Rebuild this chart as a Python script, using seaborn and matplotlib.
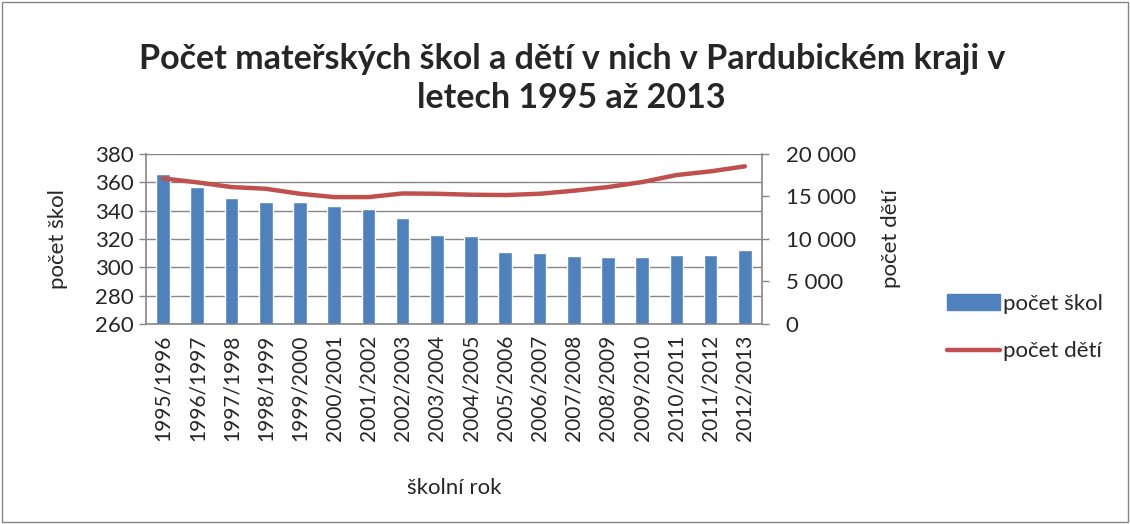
import numpy as np
import pandas as pd
import matplotlib
matplotlib.use("Agg")
import matplotlib.pyplot as plt
import seaborn as sns
from matplotlib.ticker import FuncFormatter, MultipleLocator
from matplotlib.patches import Rectangle, Patch
from matplotlib.lines import Line2D

years = ["1995/1996", "1996/1997", "1997/1998", "1998/1999", "1999/2000",
         "2000/2001", "2001/2002", "2002/2003", "2003/2004", "2004/2005",
         "2005/2006", "2006/2007", "2007/2008", "2008/2009", "2009/2010",
         "2010/2011", "2011/2012", "2012/2013"]
skoly = [366, 357, 349, 346, 346, 343, 341, 335, 323, 322,
         311, 310, 308, 307, 307, 309, 309, 312]
deti = [17130, 16660, 16110, 15910, 15320, 14930, 14930, 15360, 15320, 15210,
        15170, 15320, 15680, 16110, 16700, 17520, 17960, 18550]

sns.set_theme(style="white")
plt.rcParams['font.family'] = ['Lato', 'DejaVu Sans']

df = pd.DataFrame({"rok": years, "skoly": skoly, "deti": deti})
df["pos"] = np.arange(len(df))

fig = plt.figure(figsize=(11.3, 5.24), dpi=100)
ax = fig.add_axes([0.1292, 0.3817, 0.5451, 0.3244])

blue = "#4F81BD"
red = "#C0504D"
grey = "#868686"
fs = 16

sns.barplot(data=df, x="rok", y="skoly", color=blue, width=0.4,
            saturation=1, ax=ax, zorder=2)
ax.set_ylim(260, 380)
ax.yaxis.set_major_locator(MultipleLocator(20))
ax.set_xlim(-0.5, len(years) - 0.5)
ax.grid(axis="y", color=grey, linewidth=1, zorder=0)
ax.set_axisbelow(True)

ax2 = ax.twinx()
sns.lineplot(data=df, x="pos", y="deti", color=red, linewidth=3.2, ax=ax2,
             solid_capstyle="round")
ax2.set_ylim(0, 20000)
ax2.yaxis.set_major_locator(MultipleLocator(5000))
ax2.yaxis.set_major_formatter(FuncFormatter(lambda v, p: f"{int(v):,}".replace(",", " ")))
ax2.set_xlim(-0.5, len(years) - 0.5)

# category boundary ticks on x
ax.set_xticks(np.arange(len(years)))
ax.set_xticklabels(years, rotation=90, fontsize=15)
ax.set_xticks(np.arange(-0.5, len(years)), minor=True)
ax.tick_params(axis="x", which="major", length=0, pad=8)
ax.tick_params(axis="x", which="minor", length=5, color=grey, width=1, direction="out")
ax.tick_params(axis="y", labelsize=fs, length=5, color=grey, width=1, direction="out",
               left=True, pad=4)
ax2.tick_params(axis="y", labelsize=fs, length=5, color=grey, width=1, direction="out",
                right=True, pad=12)

for a in (ax, ax2):
    for s in a.spines.values():
        s.set_visible(False)
ax.spines["left"].set_visible(True)
ax.spines["bottom"].set_visible(True)
ax2.spines["right"].set_visible(True)
for s in (ax.spines["left"], ax.spines["bottom"], ax2.spines["right"]):
    s.set_color(grey)
    s.set_linewidth(1.2)

ax.set_xlabel("školní rok", fontsize=fs, labelpad=26)
ax.set_ylabel("počet škol", fontsize=fs, labelpad=19)
ax2.set_ylabel("počet dětí", fontsize=fs, labelpad=18)

fig.text(0.506, 0.85, "Počet mateřských škol a dětí v nich v Pardubickém kraji v\nletech 1995 až 2013",
         ha="center", va="center", fontsize=24.5, fontweight="bold", linespacing=1.3)

handles = [Patch(facecolor=blue, edgecolor=blue),
           Line2D([0], [0], color=red, linewidth=3.2, solid_capstyle="round")]
fig.legend(handles, ["počet škol", "počet dětí"], loc="center left",
           bbox_to_anchor=(0.82, 0.375), frameon=False, fontsize=fs,
           labelspacing=1.25, handlelength=2.4, handletextpad=0.15)

fig.patches.append(Rectangle((0.002, 0.003), 0.996, 0.994, transform=fig.transFigure,
                             fill=False, edgecolor=grey, linewidth=1))

fig.savefig("out.png", dpi=100)
